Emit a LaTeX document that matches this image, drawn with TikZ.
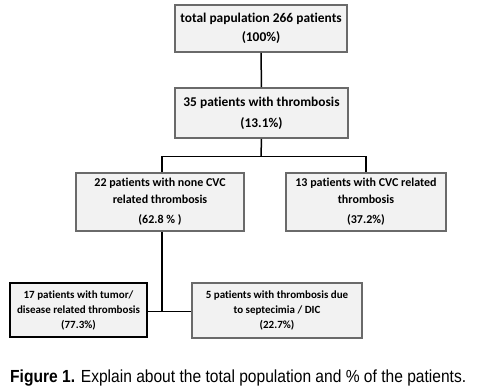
\documentclass[tikz,border=0pt]{standalone}
\usepackage{fontspec}
\setmainfont[Ligatures=NoCommon]{Carlito}
\newfontfamily\capfont[FakeStretch=0.89]{Liberation Sans}
\definecolor{boxfill}{HTML}{F2F2F2}
\definecolor{boxline}{HTML}{6A6A6A}
\tikzset{
  box/.style={draw=boxline, line width=1.6pt, fill=boxfill, align=center, inner sep=0pt, font=\bfseries},
  conn/.style={draw=black, line width=1.5pt},
}
\begin{document}
\begin{tikzpicture}[x=1pt,y=-1pt]
\useasboundingbox[fill=white] (0,0) rectangle (496,389);
\node[box, minimum width=172pt, minimum height=47pt, font=\bfseries\fontsize{13.4}{19}\selectfont] (b1) at (261,28.5)
  {total papulation 266 patients\\(100\%)};
\node[box, minimum width=173pt, minimum height=50pt, font=\bfseries\fontsize{13.4}{21}\selectfont] (b2) at (261.5,113)
  {35 patients with thrombosis\\(13.1\%)};
\node[box, minimum width=168pt, minimum height=58pt, font=\bfseries\fontsize{12}{16.5}\selectfont] (b3) at (160,202)
  {22 patients with none CVC\\related thrombosis\\[4pt](62.8 \% )};
\node[box, minimum width=160pt, minimum height=58pt, font=\bfseries\fontsize{12}{16.5}\selectfont] (b4) at (366,202)
  {13 patients with CVC related\\thrombosis\\[4pt](37.2\%)};
\node[box, draw=black, line width=2.6pt, minimum width=137pt, minimum height=54pt, font=\bfseries\fontsize{11}{15}\selectfont] (b5) at (78.5,310)
  {17 patients with tumor/\\disease related thrombosis\\(77.3\%)};
\node[box, minimum width=170pt, minimum height=55pt, font=\bfseries\fontsize{11}{15}\selectfont] (b6) at (277,310.5)
  {5 patients with thrombosis due\\to septecimia / DIC\\(22.7\%)};
\coordinate (j1) at (261,156.5);
\coordinate (j2) at (162,311.5);
\draw[conn] (b1.south) -- (b2.north);
\draw[conn] (b2.south) -- (j1);
\draw[conn] (b3.north -| j2) |- (j1) -| (b4.north);
\draw[conn] (b3.south -| j2) -- (j2);
\draw[conn] (b5.east |- j2) -- (b6.west |- j2);
\node[anchor=base west, inner sep=0pt, font=\capfont\fontsize{17.5}{20}\selectfont] (cap) at (10,382)
  {\textbf{Figure 1.} Explain about the total population and \% of the patients.};
\end{tikzpicture}
\end{document}
